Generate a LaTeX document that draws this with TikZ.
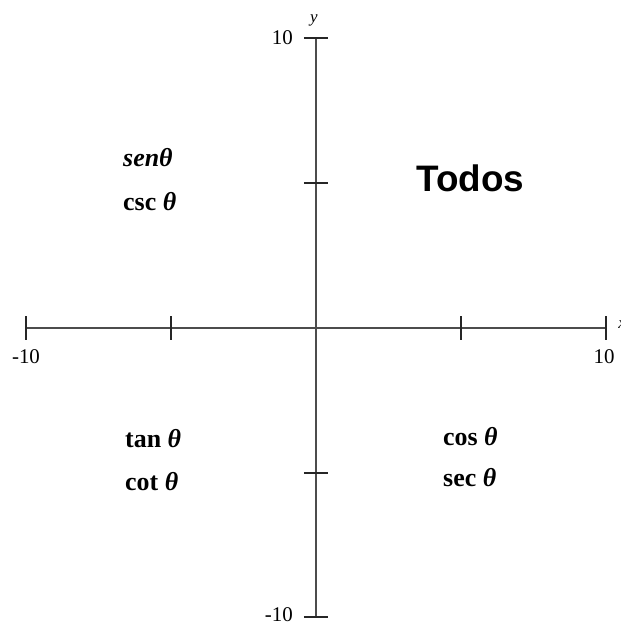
\documentclass[tikz,border=0pt]{standalone}
\usepackage{fontspec}
\setmainfont{Liberation Serif}
\newfontfamily\todosfont{Liberation Sans}
\begin{document}
\begin{tikzpicture}[x=1bp,y=-1bp,
  axisline/.style={draw=black!70,line width=1.8bp},
  tickmark/.style={draw=black!85,line width=1.8bp},
  numlbl/.style={font=\fontsize{21}{21}\selectfont,inner sep=0pt},
  trig/.style={font=\fontsize{26}{26}\selectfont\bfseries,inner sep=0pt,anchor=base west},
  axlbl/.style={font=\fontsize{17}{17}\selectfont\itshape,inner sep=0pt}]
\useasboundingbox (0,0) rectangle (621,624);
\coordinate (O) at (315.8,327.6);
\coordinate (xl) at (26,327.6);
\coordinate (xr) at (605.8,327.6);
\coordinate (yt) at (315.8,38);
\coordinate (yb) at (315.8,617);
\draw[axisline] (xl) -- (xr);
\draw[axisline] (yt) -- (yb);
% x ticks
\foreach \n/\xx in {xa/26,xb/170.8,xc/460.8,xd/605.8}{
  \coordinate (\n) at (\xx,327.6);
  \draw[tickmark] ([yshift=-12bp]\n) -- ([yshift=12bp]\n);
}
% y ticks
\foreach \n/\yy in {ya/38,yb2/182.6,yc/472.6,yd/617}{
  \coordinate (\n) at (315.8,\yy);
  \draw[tickmark] ([xshift=-12bp]\n) -- ([xshift=12bp]\n);
}
\node[numlbl,anchor=east] (ytop) at (293,38) {10};
\node[numlbl,anchor=base east] (ybot) at (293,621) {-10};
\node[numlbl] (xleft) at (26,357) {-10};
\node[numlbl] (xright) at (604,357) {10};
\node[axlbl] (ylab) at (314,20) {y};
\node[axlbl] (xlab) at (622,325) {x};
\node[trig] (sen) at (123,167) {\textit{senθ}};
\node[trig] (csc) at (123,210) {csc \textit{θ}};
\node[trig] (tan) at (125,447) {tan \textit{θ}};
\node[trig] (cot) at (125,490) {cot \textit{θ}};
\node[trig] (cos) at (443,445) {cos \textit{θ}};
\node[trig] (sec) at (443,486) {sec \textit{θ}};
\node[font=\todosfont\bfseries\fontsize{37}{37}\selectfont,inner sep=0pt,anchor=base west] (todos) at (416,191) {Todos};
\end{tikzpicture}
\end{document}
